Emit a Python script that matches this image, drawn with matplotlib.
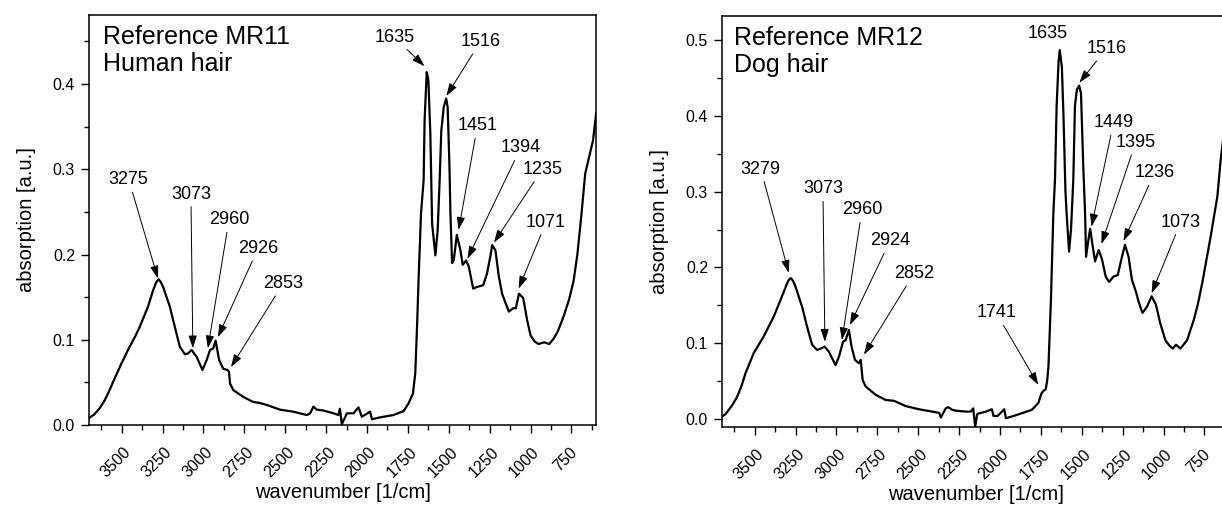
import matplotlib
matplotlib.use('Agg')
import matplotlib.pyplot as plt
import matplotlib.transforms as mtransforms
from matplotlib.ticker import MultipleLocator, FormatStrFormatter

plt.rcParams['font.family'] = ['Liberation Sans', 'DejaVu Sans']

# ---------------- data ----------------
wn_human = [3702, 3670, 3635, 3604, 3574, 3540, 3502, 3451, 3420, 3390, 3339, 3308, 3290, 3275, 3262, 3247, 3206, 3175,
            3145, 3114, 3094, 3073, 3042, 3006, 2981, 2960, 2940, 2926, 2904, 2879,
            2853, 2844, 2838, 2818, 2757, 2696, 2660, 2613, 2532, 2450, 2368, 2348,
            2328, 2307, 2267, 2205, 2175, 2166, 2154, 2123, 2083, 2052, 2032, 1981,
            1970, 1919, 1838, 1776, 1746, 1719, 1705, 1695, 1685, 1670, 1654, 1648,
            1635, 1625, 1613, 1602, 1582, 1568, 1556, 1546, 1531, 1516, 1507, 1496,
            1490, 1480, 1470, 1451, 1429, 1415, 1394, 1378, 1351, 1327, 1290, 1266,
            1245, 1235, 1215, 1194, 1174, 1153, 1133, 1106, 1090, 1071, 1045, 1021,
            1000, 975, 952, 917, 886, 860, 833, 797, 765, 737, 714, 690, 666, 618, 599]
abs_human = [0.008, 0.012, 0.0195, 0.029, 0.041, 0.056, 0.072, 0.092, 0.103, 0.115, 0.139, 0.158, 0.167, 0.171, 0.168, 0.162, 0.139, 0.115,
             0.092, 0.083, 0.084, 0.088, 0.080, 0.0645, 0.076, 0.088, 0.090, 0.099, 0.076, 0.066,
             0.0645, 0.0625, 0.049, 0.041, 0.033, 0.027, 0.026, 0.0235, 0.018, 0.0156, 0.0117, 0.0137,
             0.0215, 0.018, 0.017, 0.0137, 0.0117, 0.019, 0.001, 0.0137, 0.0137, 0.0207, 0.0097, 0.0156,
             0.0067, 0.009, 0.0117, 0.0164, 0.0254, 0.037, 0.061, 0.111, 0.170, 0.248, 0.287, 0.358,
             0.414, 0.405, 0.342, 0.236, 0.199, 0.229, 0.287, 0.345, 0.373, 0.383, 0.373, 0.303,
             0.248, 0.190, 0.193, 0.223, 0.205, 0.188, 0.193, 0.186, 0.160, 0.162, 0.164, 0.178,
             0.199, 0.211, 0.205, 0.174, 0.154, 0.143, 0.133, 0.137, 0.137, 0.154, 0.149, 0.123,
             0.105, 0.098, 0.095, 0.097, 0.095, 0.101, 0.110, 0.128, 0.147, 0.169, 0.200, 0.245, 0.295, 0.334, 0.366]

wn_dog = [3704, 3680, 3659, 3635, 3608, 3580, 3557, 3506, 3445, 3384, 3333, 3302, 3290, 3279, 3265, 3251, 3210,
          3180, 3149, 3118, 3097, 3073, 3047, 3006, 2985, 2960, 2944, 2924, 2908,
          2887, 2863, 2852, 2840, 2822, 2761, 2699, 2648, 2577, 2495, 2414, 2372,
          2362, 2332, 2316, 2291, 2271, 2210, 2179, 2164, 2152, 2140, 2128, 2086,
          2050, 2040, 2015, 1974, 1964, 1902, 1806, 1766, 1746, 1730, 1721, 1712,
          1704, 1688, 1674, 1664, 1654, 1642, 1635, 1622, 1612, 1600, 1593, 1578,
          1566, 1552, 1542, 1530, 1516, 1505, 1491, 1480, 1474, 1460, 1449, 1436,
          1419, 1397, 1378, 1354, 1333, 1306, 1280, 1259, 1236, 1214, 1194, 1169,
          1153, 1129, 1102, 1073, 1047, 1020, 989, 965, 944, 924, 897, 856, 815,
          790, 764, 712, 671, 651, 630]
abs_dog = [0.003, 0.006, 0.012, 0.019, 0.029, 0.044, 0.060, 0.087, 0.109, 0.135, 0.162, 0.179, 0.184, 0.186, 0.182, 0.175, 0.148,
           0.122, 0.098, 0.091, 0.093, 0.0955, 0.089, 0.071, 0.082, 0.102, 0.104, 0.1175, 0.0955,
           0.078, 0.0735, 0.078, 0.0515, 0.043, 0.032, 0.025, 0.024, 0.017, 0.0128, 0.0097, 0.008,
           0.002, 0.014, 0.0155, 0.012, 0.011, 0.0097, 0.0097, 0.014, -0.010, 0.006, 0.0075, 0.0097,
           0.0128, 0.004, 0.004, 0.0128, 0.001, 0.005, 0.012, 0.021, 0.034, 0.038, 0.039, 0.050,
           0.069, 0.162, 0.272, 0.316, 0.413, 0.472, 0.487, 0.465, 0.400, 0.300, 0.272, 0.221,
           0.250, 0.316, 0.413, 0.435, 0.440, 0.430, 0.333, 0.272, 0.214, 0.236, 0.251, 0.232,
           0.208, 0.223, 0.212, 0.188, 0.181, 0.188, 0.190, 0.210, 0.230, 0.214, 0.184, 0.168,
           0.155, 0.140, 0.148, 0.162, 0.151, 0.126, 0.104, 0.097, 0.093, 0.098, 0.093, 0.104, 0.131,
           0.152, 0.179, 0.241, 0.294, 0.342, 0.380]

x_ticks = [3500, 3250, 3000, 2750, 2500, 2250, 2000, 1750, 1500, 1250, 1000, 750]
x_tick_labels = [str(v) for v in x_ticks]

human_title = 'Reference MR11\nHuman hair'
dog_title = 'Reference MR12\nDog hair'
human_peak_labels = ['3275', '3073', '2960', '2926', '2853',
                     '1635', '1516', '1451', '1394', '1235', '1071']
dog_peak_labels = ['3279', '3073', '2960', '2924', '2852', '1741',
                   '1635', '1516', '1449', '1395', '1236', '1073']

x_label = 'wavenumber [1/cm]'
y_label = 'absorption [a.u.]'

# ---------------- layout ----------------
# label -> (arrow tip x, tip y, text x, text y) in data coordinates; tip None = no arrow
human_layout = {
    '3275': (3279, 0.172, 3457, 0.288),
    '3073': (3065, 0.090, 3077, 0.271),
    '2960': (2973, 0.090, 2844, 0.241),
    '2926': (2912, 0.103, 2667, 0.207),
    '2853': (2832, 0.068, 2513, 0.166),
    '1635': (1649, 0.421, 1833, 0.455),
    '1516': (1515, 0.386, 1306, 0.450),
    '1451': (1440, 0.229, 1325, 0.351),
    '1394': (1386, 0.195, 1061, 0.325),
    '1235': (1224, 0.214, 928, 0.300),
    '1071': (1073, 0.160, 905, 0.238),
}
dog_layout = {
    '3279': (3292, 0.193, 3463, 0.330),
    '3073': (3071, 0.102, 3083, 0.304),
    '2960': (2967, 0.104, 2844, 0.276),
    '2924': (2918, 0.124, 2673, 0.235),
    '2852': (2832, 0.085, 2526, 0.192),
    '1741': (1766, 0.045, 2023, 0.140),
    '1635': (None, None, 1711, 0.509),
    '1516': (1515, 0.444, 1349, 0.489),
    '1449': (1441, 0.254, 1306, 0.391),
    '1395': (1380, 0.231, 1171, 0.365),
    '1236': (1245, 0.235, 1055, 0.325),
    '1073': (1073, 0.166, 895, 0.260),
}

W, H = 1222, 508
fig = plt.figure(figsize=(W / 100, H / 100), dpi=100)
ax1 = fig.add_axes([89 / W, 1 - 425 / H, 507 / W, 410 / H])
ax2 = fig.add_axes([722 / W, 1 - 427 / H, 507 / W, 411 / H])

arrow_kw = dict(arrowstyle='-|>,head_length=0.55,head_width=0.18', color='black',
                lw=0.7, mutation_scale=14, shrinkA=1, shrinkB=0)
label_shift = mtransforms.ScaledTranslation(-6 / 100, 0, fig.dpi_scale_trans)


def style_axes(ax, ylim, ymax_tick):
    ax.set_xlim(3700, 600)
    ax.set_ylim(*ylim)
    ax.set_xticks(x_ticks)
    ax.set_xticklabels(x_tick_labels)
    ax.xaxis.set_minor_locator(MultipleLocator(125))
    yt = [round(0.1 * i, 1) for i in range(int(round(ymax_tick * 10)) + 1)]
    ax.set_yticks(yt)
    ax.yaxis.set_major_formatter(FormatStrFormatter('%.1f'))
    ax.yaxis.set_minor_locator(MultipleLocator(0.05))
    ax.tick_params(axis='both', which='major', direction='out', length=6, width=1.0,
                   labelsize=11.5, pad=4, top=False, right=False)
    ax.tick_params(axis='both', which='minor', direction='out', length=3.5, width=1.0,
                   top=False, right=False)
    ax.tick_params(axis='x', which='major', labelrotation=45, pad=8)
    for lab in ax.get_xticklabels():
        lab.set_ha('center')
        lab.set_transform(lab.get_transform() + label_shift)
    for sp in ax.spines.values():
        sp.set_linewidth(1.1)
    ax.set_xlabel(x_label, fontsize=14.5, labelpad=2)
    ax.set_ylabel(y_label, fontsize=14.5, labelpad=12)


def annotate(ax, labels, layout):
    for lab in labels:
        tx, ty, x, y = layout[lab]
        if tx is None:
            ax.text(x, y, lab, fontsize=13, ha='center', va='center')
        else:
            ax.annotate(lab, xy=(tx, ty), xytext=(x, y), fontsize=13,
                        ha='center', va='center', arrowprops=arrow_kw)


ax1.plot(wn_human, abs_human, color='black', lw=1.6)
style_axes(ax1, (0.0, 0.481), 0.4)
annotate(ax1, human_peak_labels, human_layout)
ax1.text(0.028, 0.975, human_title, transform=ax1.transAxes, fontsize=18,
         ha='left', va='top', linespacing=1.15)

ax2.plot(wn_dog, abs_dog, color='black', lw=1.6)
style_axes(ax2, (-0.0106, 0.532), 0.5)
annotate(ax2, dog_peak_labels, dog_layout)
ax2.text(0.024, 0.975, dog_title, transform=ax2.transAxes, fontsize=18,
         ha='left', va='top', linespacing=1.15)

fig.savefig('out.png', dpi=100)
